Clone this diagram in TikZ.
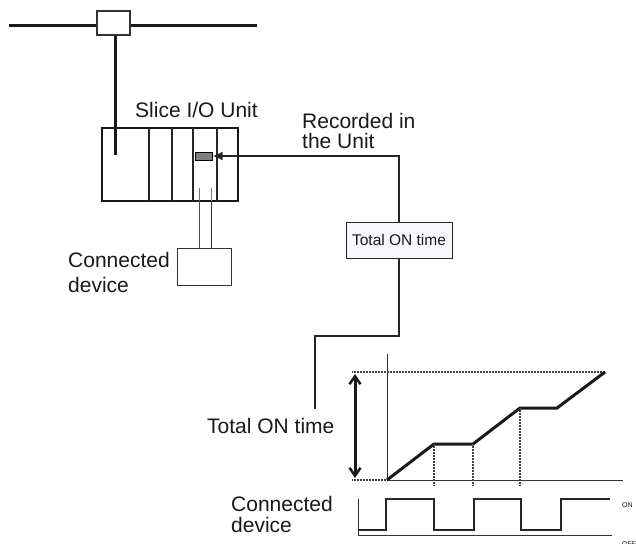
\documentclass[tikz,border=0pt]{standalone}
\usepackage{fontspec}
\setmainfont{Liberation Sans}
\usetikzlibrary{arrows.meta}
\newcommand\myfs[2]{\fontsize{#1}{#2}\selectfont}
\begin{document}
\begin{tikzpicture}[x=1pt,y=-1pt,
  lbl/.style={inner sep=0pt, font=\myfs{21}{24}, text=black!90, align=left},
  thinbox/.style={draw=black!80, line width=1pt, inner sep=0pt},
  thickline/.style={line width=3pt, draw=black!90},
  conn/.style={line width=2pt, draw=black!85},
  dots/.style={line width=1.8pt, draw=black!75, dash pattern=on 1pt off 0.5pt},
  axis/.style={line width=1pt, draw=black!80},
  wave/.style={line width=1.4pt, draw=black!85}
]
\useasboundingbox (0,0) rectangle (636,543);

% bus and tap
\node[thinbox, line width=1.5pt, minimum width=33pt, minimum height=24pt] (busbox) at (113.5,23) {};
\coordinate (busL) at (9,26);
\coordinate (busR) at (257,26);
\draw[thickline] (busL) -- (busbox.west |- busL);
\draw[thickline] (busbox.east |- busR) -- (busR);

% slice unit
\node[draw=black!90, line width=2pt, inner sep=0pt, minimum width=136pt, minimum height=73pt] (unit) at (170,164.5) {};
\foreach \xx in {149,172,193,217}
  \draw[line width=1.2pt, black!85] (\xx,128) -- (\xx,201);
\coordinate (busend) at (115,155);
\draw[thickline] (busbox.south -| busend) -- (busend);
\node[draw=black, fill=black!50, line width=1pt, inner sep=0pt, minimum width=17pt, minimum height=8pt] (slot) at (203.5,156) {};

% connected device (top)
\node[thinbox, minimum width=54pt, minimum height=37pt] (devtop) at (204,266.5) {};
\draw[line width=1pt, black!55] (199,188) -- (199,201);
\draw[line width=1pt, black!55] (211,188) -- (211,201);
\draw[line width=1pt, black!70] (199,201) -- (199,248);
\draw[line width=1pt, black!80] (211,201) -- (211,248);

% labels (top)
\node[lbl, anchor=base west] (lblunit) at (135,117) {Slice I/O Unit};
\node[lbl, anchor=base west, font=\myfs{21}{20}] (lblrec) at (302,148) {Recorded in\\the Unit};
\node[lbl, anchor=base west, font=\myfs{21}{24.5}] (lbldevtop) at (68,292) {Connected\\device};

% total ON time box
\node[draw=black!85, fill=black!10!blue!3!white, line width=1pt, minimum width=106pt, minimum height=36pt, inner sep=0pt, font=\myfs{15.5}{18}, text=black!90] (totalbox) at (399,240) {Total ON time};
\draw[conn, -{Latex[length=10pt,width=9pt]}] (totalbox.north) |- (slot.east);

\node[lbl, anchor=base west] (lbltotal) at (207,433) {Total ON time};
\coordinate (bend) at (315,336);
\coordinate (lblend) at (315,409);
\draw[conn] (totalbox.south) |- (bend) -- (lblend);

% graph
\coordinate (orig) at (387,480);
\draw[axis] (387,354) -- (orig) -- (623,480);
\draw[dots] (352,372) -- (605,372);
\draw[dots] (352,480) -- (orig);
\draw[line width=3pt, black!90, {Straight Barb[length=8pt,width=11pt,line width=2.5pt]}-{Straight Barb[length=8pt,width=11pt,line width=2.5pt]}] (355,374) -- (355,478);
\coordinate (p1) at (434,444);
\coordinate (p2) at (473,444);
\coordinate (p3) at (520,408);
\coordinate (p4) at (557,408);
\coordinate (p5) at (605,372);
\draw[line width=3pt, black!90, line join=miter] (orig) -- (p1) -- (p2) -- (p3) -- (p4) -- (p5);
\draw[dots] (p1) -- (434,485);
\draw[dots] (p2) -- (473,485);
\draw[dots] (p3) -- (520,485);

% signal
\draw[axis] (358,499) -- (358,535) -- (612,535);
\draw[wave] (358,530) -- (386,530) -- (386,499) -- (434,499) -- (434,530) -- (474,530) -- (474,499) -- (521,499) -- (521,530) -- (561,530) -- (561,499) -- (610,499);
\node[lbl, anchor=base west, font=\myfs{7}{8}] (lblon) at (622,507) {ON};
\node[lbl, anchor=base west, font=\myfs{7}{8}] (lbloff) at (622,546) {OFF};
\node[lbl, anchor=base west, font=\myfs{21}{21}] (lbldevbot) at (231,532) {Connected\\device};
\end{tikzpicture}
\end{document}
